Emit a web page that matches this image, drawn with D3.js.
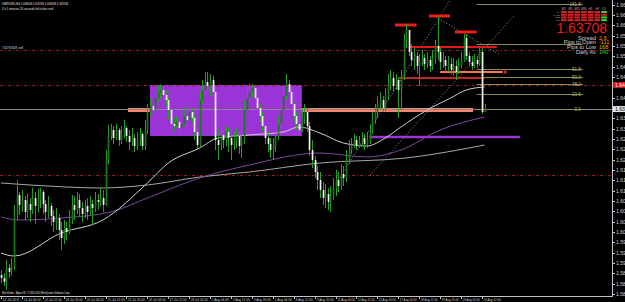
<!DOCTYPE html>
<html>
<head>
<meta charset="utf-8">
<script src="https://cdn.jsdelivr.net/npm/d3@7"></script>
<style>
  html, body { margin: 0; padding: 0; background: #000; overflow: hidden; }
  svg { display: block; font-family: 'Liberation Sans', Arial, sans-serif; }
</style>
</head>
<body>
<div id="chart"></div>
<script>
/* global d3 */

// ---- data (GBPUSD,H4) ----
const symbol = 'GBPUSD,H4';
const quoteLine = '1.63603 1.63708 1.63408 1.63708';
const timerLine = '2 h 1 minutes 24 seconds left to bar end';
const footer = 'MetaTrader - Alpari UK, \u00a9 2001-2010 MetaQuotes Software Corp.';

// one label every 8 bars, starting at bar 0
const timeLabels = [
  '12 Jul 2011', '14 Jul 04:00', '15 Jul 12:00', '18 Jul 20:00', '20 Jul 04:00',
  '21 Jul 12:00', '22 Jul 20:00', '26 Jul 04:00', '27 Jul 12:00', '28 Jul 20:00',
  '1 Aug 04:00', '2 Aug 12:00', '3 Aug 20:00', '5 Aug 04:00', '8 Aug 12:00',
  '9 Aug 20:00', '11 Aug 04:00', '12 Aug 12:00', '15 Aug 20:00', '17 Aug 04:00',
  '18 Aug 12:00', '19 Aug 20:00', '23 Aug 04:00', '24 Aug 12:00',
];

const priceTicks = [
  1.6684, 1.6653, 1.6622, 1.6591, 1.6560, 1.6529, 1.6498, 1.6467, 1.6436, 1.6405,
  1.6374, 1.6343, 1.6312, 1.6281, 1.6250, 1.6219, 1.6188, 1.6157, 1.6126, 1.6095,
  1.6064, 1.6033, 1.6002, 1.5971, 1.5940, 1.5909, 1.5878, 1.5847, 1.5816,
];

const firstOpen = 1.5873;
const closes = [
  1.5864, 1.5852, 1.5894, 1.5882, 1.5900, 1.6053, 1.6113, 1.6083, 1.6098, 1.6062,
  1.6086, 1.6068, 1.6104, 1.6080, 1.6098, 1.6122, 1.6086, 1.6062, 1.6080, 1.6050,
  1.6032, 1.6044, 1.6008, 1.5984, 1.6014, 1.6002, 1.6038, 1.6083, 1.6068, 1.6098,
  1.6074, 1.6056, 1.6080, 1.6062, 1.6086, 1.6074, 1.6098, 1.6092, 1.6104, 1.6083,
  1.6218, 1.6290, 1.6308, 1.6284, 1.6308, 1.6278, 1.6296, 1.6314, 1.6290, 1.6272,
  1.6284, 1.6260, 1.6278, 1.6296, 1.6260, 1.6308, 1.6362, 1.6380, 1.6368, 1.6404,
  1.6419, 1.6428, 1.6413, 1.6398, 1.6368, 1.6326, 1.6320, 1.6332, 1.6314, 1.6326,
  1.6350, 1.6338, 1.6362, 1.6344, 1.6302, 1.6263, 1.6398, 1.6428, 1.6452, 1.6440,
  1.6458, 1.6422, 1.6278, 1.6263, 1.6293, 1.6278, 1.6302, 1.6284, 1.6263, 1.6278,
  1.6290, 1.6260, 1.6278, 1.6368, 1.6404, 1.6422, 1.6434, 1.6404, 1.6374, 1.6350,
  1.6320, 1.6284, 1.6266, 1.6248, 1.6260, 1.6290, 1.6326, 1.6368, 1.6410, 1.6446,
  1.6422, 1.6386, 1.6350, 1.6326, 1.6308, 1.6344, 1.6362, 1.6320, 1.6248, 1.6218,
  1.6182, 1.6158, 1.6128, 1.6104, 1.6116, 1.6092, 1.6110, 1.6134, 1.6158, 1.6140,
  1.6176, 1.6164, 1.6218, 1.6248, 1.6260, 1.6278, 1.6260, 1.6272, 1.6284, 1.6266,
  1.6278, 1.6308, 1.6338, 1.6362, 1.6386, 1.6398, 1.6374, 1.6410, 1.6446, 1.6464,
  1.6440, 1.6458, 1.6428, 1.6470, 1.6578, 1.6608, 1.6542, 1.6518, 1.6530, 1.6500,
  1.6512, 1.6524, 1.6506, 1.6518, 1.6500, 1.6524, 1.6560, 1.6542, 1.6512, 1.6518,
  1.6500, 1.6506, 1.6488, 1.6500, 1.6482, 1.6500, 1.6518, 1.6584, 1.6530, 1.6512,
  1.6500, 1.6518, 1.6506, 1.6542, 1.6362, 1.63708,
];
const highs = [
  1.5888, 1.5879, 1.5918, 1.5906, 1.5924, 1.6083, 1.6158, 1.6122, 1.6128, 1.6110,
  1.6116, 1.6104, 1.6134, 1.6122, 1.6131, 1.6134, 1.6128, 1.6098, 1.6110, 1.6089,
  1.6068, 1.6074, 1.6056, 1.6032, 1.6038, 1.6032, 1.6068, 1.6113, 1.6110, 1.6122,
  1.6116, 1.6092, 1.6098, 1.6104, 1.6110, 1.6098, 1.6122, 1.6116, 1.6134, 1.6128,
  1.6248, 1.6323, 1.6326, 1.6320, 1.6326, 1.6314, 1.6320, 1.6338, 1.6320, 1.6308,
  1.6314, 1.6296, 1.6302, 1.6314, 1.6302, 1.6338, 1.6386, 1.6404, 1.6398, 1.6422,
  1.6440, 1.6446, 1.6440, 1.6428, 1.6404, 1.6386, 1.6344, 1.6350, 1.6344, 1.6344,
  1.6374, 1.6368, 1.6380, 1.6374, 1.6356, 1.6314, 1.6422, 1.6458, 1.6482, 1.6482,
  1.6476, 1.6470, 1.6440, 1.6308, 1.6314, 1.6308, 1.6320, 1.6314, 1.6308, 1.6302,
  1.6314, 1.6302, 1.6308, 1.6398, 1.6434, 1.6446, 1.6446, 1.6440, 1.6410, 1.6386,
  1.6362, 1.6326, 1.6302, 1.6284, 1.6284, 1.6308, 1.6350, 1.6398, 1.6440, 1.6476,
  1.6458, 1.6434, 1.6392, 1.6362, 1.6344, 1.6368, 1.6386, 1.6374, 1.6332, 1.6278,
  1.6230, 1.6200, 1.6182, 1.6152, 1.6146, 1.6134, 1.6140, 1.6164, 1.6188, 1.6182,
  1.6206, 1.6200, 1.6248, 1.6278, 1.6284, 1.6296, 1.6290, 1.6290, 1.6302, 1.6296,
  1.6302, 1.6326, 1.6362, 1.6386, 1.6410, 1.6422, 1.6410, 1.6434, 1.6476, 1.6488,
  1.6482, 1.6476, 1.6464, 1.6488, 1.6596, 1.6626, 1.6602, 1.6566, 1.6554, 1.6542,
  1.6536, 1.6548, 1.6536, 1.6542, 1.6530, 1.6548, 1.6578, 1.6650, 1.6554, 1.6542,
  1.6530, 1.6530, 1.6524, 1.6524, 1.6518, 1.6524, 1.6542, 1.6596, 1.6596, 1.6542,
  1.6530, 1.6536, 1.6530, 1.6554, 1.6554, 1.6386,
];
const lows = [
  1.5849, 1.5840, 1.5828, 1.5864, 1.5870, 1.5888, 1.6038, 1.6053, 1.6062, 1.6038,
  1.6044, 1.6032, 1.6056, 1.6026, 1.6062, 1.6074, 1.6056, 1.6032, 1.6044, 1.6020,
  1.6002, 1.6008, 1.5978, 1.5948, 1.5966, 1.5978, 1.5996, 1.6026, 1.6038, 1.6056,
  1.6050, 1.6032, 1.6044, 1.6038, 1.6053, 1.6023, 1.6062, 1.6068, 1.6080, 1.6062,
  1.6080, 1.6206, 1.6278, 1.6266, 1.6278, 1.6260, 1.6266, 1.6284, 1.6272, 1.6248,
  1.6260, 1.6242, 1.6248, 1.6260, 1.6248, 1.6248, 1.6296, 1.6350, 1.6350, 1.6362,
  1.6392, 1.6404, 1.6398, 1.6380, 1.6338, 1.6314, 1.6302, 1.6314, 1.6302, 1.6308,
  1.6320, 1.6320, 1.6332, 1.6326, 1.6278, 1.6248, 1.6254, 1.6386, 1.6416, 1.6422,
  1.6410, 1.6404, 1.6248, 1.6218, 1.6248, 1.6254, 1.6260, 1.6242, 1.6218, 1.6248,
  1.6254, 1.6236, 1.6224, 1.6266, 1.6356, 1.6392, 1.6404, 1.6386, 1.6356, 1.6332,
  1.6302, 1.6266, 1.6242, 1.6224, 1.6218, 1.6242, 1.6278, 1.6314, 1.6362, 1.6398,
  1.6404, 1.6368, 1.6332, 1.6308, 1.6296, 1.6302, 1.6326, 1.6302, 1.6230, 1.6194,
  1.6164, 1.6128, 1.6104, 1.6083, 1.6074, 1.6068, 1.6062, 1.6098, 1.6110, 1.6122,
  1.6128, 1.6140, 1.6152, 1.6206, 1.6236, 1.6254, 1.6248, 1.6254, 1.6260, 1.6248,
  1.6254, 1.6266, 1.6296, 1.6326, 1.6344, 1.6368, 1.6362, 1.6362, 1.6398, 1.6428,
  1.6422, 1.6428, 1.6344, 1.6368, 1.6458, 1.6554, 1.6530, 1.6500, 1.6488, 1.6476,
  1.6440, 1.6500, 1.6488, 1.6494, 1.6482, 1.6488, 1.6506, 1.6518, 1.6488, 1.6494,
  1.6482, 1.6482, 1.6476, 1.6470, 1.6458, 1.6476, 1.6494, 1.6512, 1.6518, 1.6500,
  1.6488, 1.6494, 1.6494, 1.6500, 1.6356, 1.6362,
];

// moving averages as [bar, price]
const maFast = [
  [0, 1.5939], [5, 1.5930], [23, 1.5999], [39, 1.6038], [56, 1.6149], [64, 1.6209],
  [76, 1.6254], [83, 1.6284], [95, 1.6293], [108, 1.6302], [114, 1.6317], [122, 1.6299],
  [131, 1.6269], [140, 1.6260], [147, 1.6284], [153, 1.6317], [163, 1.6368],
  [172, 1.6404], [178, 1.6428], [185, 1.6437],
];
const maMid = [
  [0, 1.6047], [7, 1.6038], [23, 1.6044], [42, 1.6062], [56, 1.6104], [76, 1.6164],
  [95, 1.6203], [122, 1.6239], [140, 1.6227], [153, 1.6248], [168, 1.6308], [185, 1.6347],
];
const maSlow = [
  [0, 1.6149], [25, 1.6137], [38, 1.6134], [56, 1.6143], [76, 1.6167], [95, 1.6182],
  [122, 1.6209], [155, 1.6224], [185, 1.6263],
];

// drawn objects: [fromBar, toBar, price] / zone [fromBar, toBar, top, bottom]
const boxZone = [57, 115.1, 1.6443, 1.6290];
const salmonLevel = [48.6, 180.6, 1.6368];
const purpleLevel = [141, 198.5, 1.6287];
const swingHighs = [[150.7, 159, 1.6623], [163.7, 171.8, 1.6650], [173.7, 182, 1.6602]];
const redLevel = [156.5, 189.7, 1.6557];
const orangeLevel = [168, 192, 1.6482];
const crimsonLevel = [152, 185, 1.6464];
const dashLevels = [1.6548, 1.6443, 1.6173];
const orderLabel = '#3276308 sell';
const trendLines = [
  [[129.7, 1.6164], [171.8, 1.6698]],
  [[141.2, 1.6173], [196.6, 1.6653]],
  [[166.4, 1.6647], [190.9, 1.6533]],
];

// fibonacci retracement
const fibLevels = [0, 23.6, 38.2, 50, 61.8, 100, 161.8];
const fibLow = 1.63708;
const fibHigh = 1.6566;
const fibBars = [182, 222.6];

// top-right panel
const bid = 1.63708;
const infoRows = [
  ['Spread', '2.6', '#ff9a00'],
  ['Pips to Open', '-111', '#ff9a00'],
  ['Pips to Low', '168', '#e0b000'],
  ['Daily Av', '140', '#22dd22'],
];
const frames = ['M1', 'M5', 'M15', 'M30', 'H1', 'H4', 'D1'];
const signalNames = ['MA', 'MACD', 'STR', 'RSI'];
const signals = [
  [0, 0, 0, 0, 0, 0, 1],
  [0, 0, 0, 0, 0, 0, 0],
  [0, 0, 0, 0, 0, 0, 1],
  [0, 0, 0, 0, 0, 0, 1],
];

// ---- chart ----
const width = 625;
const height = 302;
const plotRight = 612;
const plotBottom = 296;
const GREEN = '#24a124';
const AXIS = '#c4c4c4';

// scales
const scaleX = d3.scaleLinear().domain([0, 233.75]).range([1, plotRight]);
const scaleY = d3.scaleLinear().domain([1.5810, 1.6698]).range([plotBottom, 0]);

const $svg = d3.select('#chart').append('svg')
  .attr('width', width)
  .attr('height', height);

$svg.append('rect').attr('width', width).attr('height', height).attr('fill', '#000');

const $plot = $svg.append('g').attr('class', 'g-plot');

function level($g, d, color, w) {
  $g.append('line')
    .attr('x1', scaleX(d[0])).attr('x2', scaleX(d[1]))
    .attr('y1', scaleY(d[2])).attr('y2', scaleY(d[2]))
    .attr('stroke', color)
    .attr('stroke-width', w);
}

// tiny MT4-style text squeezed to a given width
function tiny($g, x, y, str, size, color, len) {
  const $t = $g.append('text')
    .attr('x', x).attr('y', y)
    .attr('fill', color)
    .style('font-size', `${size}px`)
    .text(str);
  if (len) $t.attr('textLength', len).attr('lengthAdjust', 'spacingAndGlyphs');
  return $t;
}

// background objects
level($plot, salmonLevel, '#f4846c', 4);

$plot.append('rect')
  .attr('x', scaleX(boxZone[0]))
  .attr('y', scaleY(boxZone[2]))
  .attr('width', scaleX(boxZone[1]) - scaleX(boxZone[0]))
  .attr('height', scaleY(boxZone[3]) - scaleY(boxZone[2]))
  .attr('fill', '#9b34d6');

level($plot, purpleLevel, '#9b34d6', 2.5);

$plot.selectAll('.dash-level')
  .data(dashLevels)
  .join('line')
  .attr('class', 'dash-level')
  .attr('x1', 0).attr('x2', plotRight)
  .attr('y1', d => Math.round(scaleY(d)) + 0.5)
  .attr('y2', d => Math.round(scaleY(d)) + 0.5)
  .attr('stroke', '#9a1c1c')
  .attr('stroke-dasharray', '3,2,1,2');

// bid line
$plot.append('line')
  .attr('x1', 0).attr('x2', plotRight)
  .attr('y1', Math.round(scaleY(bid)) + 0.5)
  .attr('y2', Math.round(scaleY(bid)) + 0.5)
  .attr('stroke', '#8a8a8a');

// fibonacci
const fibRange = fibHigh - fibLow;
const $fib = $plot.append('g').attr('class', 'g-fib');
fibLevels.forEach(lv => {
  const y = Math.round(scaleY(fibLow + (fibRange * lv) / 100)) + 0.5;
  $fib.append('line')
    .attr('x1', scaleX(fibBars[0])).attr('x2', scaleX(fibBars[1]))
    .attr('y1', y).attr('y2', y)
    .attr('stroke', '#8d8d55');
  if (lv === 100) return; // hidden under the info panel in the original
  $fib.append('text')
    .attr('x', scaleX(fibBars[1]) - 2)
    .attr('y', y + 1)
    .attr('text-anchor', 'end')
    .attr('fill', '#b0b070')
    .style('font-size', '4.5px')
    .text(d3.format('.1f')(lv));
});

// trend lines
const line = d3.line().x(d => scaleX(d[0])).y(d => scaleY(d[1]));
$plot.selectAll('.trend')
  .data(trendLines)
  .join('path')
  .attr('class', 'trend')
  .attr('d', line)
  .attr('fill', 'none')
  .attr('stroke', '#9a9a9a')
  .attr('stroke-dasharray', '1,2');

// moving averages
const maLine = d3.line().curve(d3.curveMonotoneX).x(d => scaleX(d[0])).y(d => scaleY(d[1]));
[[maSlow, '#a8a8a0'], [maMid, '#7b4a9e'], [maFast, '#cfcfcf']].forEach(([pts, color]) => {
  $plot.append('path')
    .attr('d', maLine(pts))
    .attr('fill', 'none')
    .attr('stroke', color)
    .attr('stroke-width', 1);
});

// horizontal levels on top
level($plot, crimsonLevel, '#c42424', 2);
level($plot, orangeLevel, '#ff7346', 2);
level($plot, redLevel, '#e01818', 2);
swingHighs.forEach(d => level($plot, d, '#ee1c1c', 3));
$plot.append('rect')
  .attr('x', scaleX(orangeLevel[1]) + 1)
  .attr('y', scaleY(orangeLevel[2]) - 1.5)
  .attr('width', 3).attr('height', 3)
  .attr('fill', '#a83020');

// candles
const bars = closes.map((c, i) => {
  const o = i ? closes[i - 1] : firstOpen;
  return { i, o, c, h: Math.max(highs[i], o, c), l: Math.min(lows[i], o, c) };
});

const $candle = $plot.selectAll('.candle')
  .data(bars)
  .join('g')
  .attr('class', 'candle');

$candle.append('line')
  .attr('x1', d => Math.round(scaleX(d.i)) + 0.5)
  .attr('x2', d => Math.round(scaleX(d.i)) + 0.5)
  .attr('y1', d => scaleY(d.h))
  .attr('y2', d => scaleY(d.l))
  .attr('stroke', GREEN);

$candle.append('rect')
  .attr('x', d => Math.round(scaleX(d.i)) - 0.3)
  .attr('width', 1.7)
  .attr('y', d => scaleY(Math.max(d.o, d.c)))
  .attr('height', d => Math.max(0.8, Math.abs(scaleY(d.o) - scaleY(d.c))))
  .attr('fill', d => (d.c >= d.o ? '#1a7a1a' : '#eef6ee'));

// axes
const $axis = $svg.append('g').attr('class', 'g-axis');

$axis.append('line')
  .attr('x1', plotRight + 0.5).attr('x2', plotRight + 0.5)
  .attr('y1', 0).attr('y2', plotBottom + 0.5)
  .attr('stroke', AXIS);
$axis.append('line')
  .attr('x1', 0).attr('x2', plotRight + 0.5)
  .attr('y1', plotBottom + 0.5).attr('y2', plotBottom + 0.5)
  .attr('stroke', AXIS);

// price flags drawn over the scale
const flags = [[dashLevels[1], '#d01414', '#fff'], [bid, '#e8e8e8', '#000']];
const freeTicks = priceTicks.filter(t => flags.every(f => Math.abs(scaleY(t) - scaleY(f[0])) > 5));

const $yTick = $axis.selectAll('.y-tick')
  .data(freeTicks)
  .join('g')
  .attr('class', 'y-tick')
  .attr('transform', d => `translate(${plotRight}, ${Math.round(scaleY(d)) + 0.5})`);
$yTick.append('line').attr('x2', 3).attr('stroke', AXIS);
$yTick.append('text')
  .attr('x', 4).attr('y', 1.8)
  .attr('fill', '#cfcfcf')
  .style('font-size', '5px')
  .text(d => d3.format('.5f')(d));

const $xTick = $axis.selectAll('.x-tick')
  .data(timeLabels)
  .join('g')
  .attr('class', 'x-tick')
  .attr('transform', (d, k) => `translate(${Math.round(scaleX(k * 8)) + 0.5}, ${plotBottom})`);
$xTick.append('line').attr('y2', 3).attr('stroke', AXIS);
$xTick.append('text')
  .attr('x', 1.2).attr('y', 5.4)
  .attr('fill', '#cfcfcf')
  .style('font-size', '3.6px')
  .attr('textLength', d => Math.min(17, d.length * 1.55))
  .attr('lengthAdjust', 'spacingAndGlyphs')
  .text(d => d);

flags.forEach(([p, bg, fg]) => {
  const y = scaleY(p);
  $axis.append('rect')
    .attr('x', plotRight + 1).attr('y', y - 3)
    .attr('width', width - plotRight).attr('height', 6)
    .attr('fill', bg);
  $axis.append('text')
    .attr('x', plotRight + 3).attr('y', y + 1.8)
    .attr('fill', fg)
    .style('font-size', '5px')
    .text(d3.format('.5f')(p));
});

// texts
const $info = $svg.append('g').attr('class', 'g-info');
tiny($info, 2, 5, `${symbol}  ${quoteLine}`, 4.4, '#e0e0e0', 66);
tiny($info, 2, 10, timerLine, 4.4, '#e0e0e0', 51);
tiny($info, 2, scaleY(dashLevels[0]) - 1, orderLabel, 4.2, '#d8d8d8', 21);
tiny($info, 2, plotBottom - 2, footer, 4.2, '#e0e0e0', 68);

// signal grid
const cellW = 6.7;
frames.forEach((f, k) => {
  tiny($info, 561 + k * cellW + 2.8, 9.6, f, 2.8, '#b8b8b8').attr('text-anchor', 'middle');
});
signals.forEach((row, r) => {
  tiny($info, 559.5, 12.8 + r * 2.7, signalNames[r], 2.2, '#b8b8b8').attr('text-anchor', 'end');
  row.forEach((s, k) => {
    $info.append('rect')
      .attr('x', 561 + k * cellW).attr('y', 11 + r * 2.7)
      .attr('width', cellW - 1).attr('height', 2.1)
      .attr('fill', s ? '#2fd22f' : '#d82020');
  });
});

$info.append('text')
  .attr('x', 607).attr('y', 32.5)
  .attr('text-anchor', 'end')
  .attr('fill', '#ee1a1a')
  .style('font-size', '14px')
  .text(d3.format('.5f')(bid));

infoRows.forEach(([name, val, color], r) => {
  const y = 39.5 + r * 4.9;
  $info.append('text')
    .attr('x', 596).attr('y', y)
    .attr('text-anchor', 'end')
    .attr('fill', '#cfcfcf')
    .style('font-size', '5.6px')
    .text(name);
  $info.append('text')
    .attr('x', 599).attr('y', y)
    .attr('fill', color)
    .style('font-size', '5.6px')
    .text(val);
});
</script>
</body>
</html>
